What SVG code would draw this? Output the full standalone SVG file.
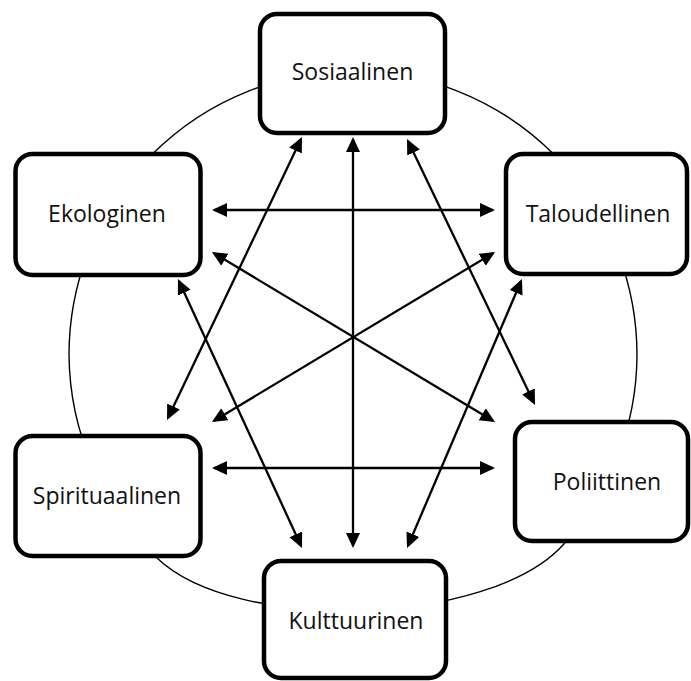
<svg xmlns="http://www.w3.org/2000/svg" width="691" height="681" viewBox="0 0 691 681">
  <style>
    .ring { fill: none; stroke: #000; stroke-width: 1.4; }
    .box { fill: #fff; stroke: #000; stroke-width: 4.5; }
    .lbl { font-family: "Open Sans", "Noto Sans", sans-serif; font-size: 23px; fill: #111; text-anchor: middle; }
    .arr { stroke: #000; stroke-width: 2.3; fill: none; marker-start: url(#ah); marker-end: url(#ah); }
  </style>
  <defs>
    <marker id="ah" markerUnits="userSpaceOnUse" markerWidth="16" markerHeight="15" refX="12.5" refY="7" orient="auto-start-reverse">
      <path d="M0,0 L15,7 L0,14 Z" fill="#000"/>
    </marker>
  </defs>
  <rect width="691" height="681" fill="#fff"/>
  <path id="ring" class="ring" d="M 637 355 A 284 284 0 0 0 69 355 A 284 284 0 0 0 157 558 C 236 634 489 626 563 545 A 284 284 0 0 0 637 355 Z"/>
  <g id="connectors">
    <line class="arr" x1="353" y1="139.5" x2="353" y2="545.5"/>
    <line class="arr" x1="214.5" y1="210" x2="492.5" y2="210"/>
    <line class="arr" x1="214.5" y1="468" x2="492.5" y2="468"/>
    <line class="arr" x1="300.9" y1="139.3" x2="168.1" y2="417.7"/>
    <line class="arr" x1="408.1" y1="141.3" x2="533.9" y2="402.7"/>
    <line class="arr" x1="179" y1="281.3" x2="301" y2="545.7"/>
    <line class="arr" x1="521" y1="281.3" x2="408" y2="545.7"/>
    <line class="arr" x1="214.1" y1="253.3" x2="492.9" y2="420.7"/>
    <line class="arr" x1="492.9" y1="253.3" x2="214.1" y2="420.7"/>
  </g>
  <g id="sosiaalinen">
    <rect class="box" x="260" y="14" width="185" height="119" rx="17"/>
    <text class="lbl" x="352.5" y="80">Sosiaalinen</text>
  </g>
  <g id="ekologinen">
    <rect class="box" x="15.5" y="154" width="185" height="121" rx="17"/>
    <text class="lbl" x="107" y="222">Ekologinen</text>
  </g>
  <g id="taloudellinen">
    <rect class="box" x="506" y="154" width="181" height="120" rx="17"/>
    <text class="lbl" x="598" y="222">Taloudellinen</text>
  </g>
  <g id="spirituaalinen">
    <rect class="box" x="15.5" y="436" width="185" height="120" rx="17"/>
    <text class="lbl" x="107" y="504">Spirituaalinen</text>
  </g>
  <g id="poliittinen">
    <rect class="box" x="515" y="422" width="173" height="119" rx="17"/>
    <text class="lbl" x="607" y="490">Poliittinen</text>
  </g>
  <g id="kulttuurinen">
    <rect class="box" x="264" y="561" width="182" height="117" rx="17"/>
    <text class="lbl" x="356" y="629">Kulttuurinen</text>
  </g>
</svg>
